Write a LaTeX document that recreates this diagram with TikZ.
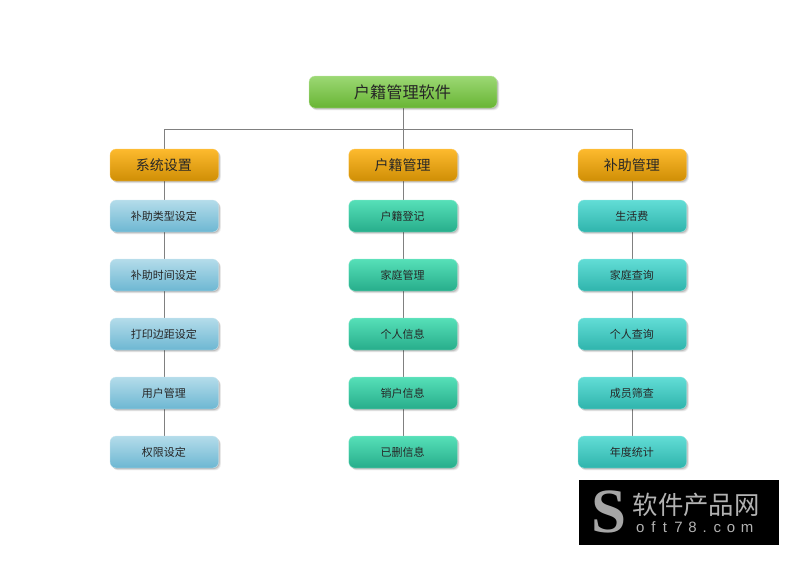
\documentclass[tikz,border=0pt]{standalone}
\usepackage{fontspec}
\setmainfont{Noto Sans CJK SC}
\newfontfamily\wmserif{Liberation Serif}
\newfontfamily\wmsans{Liberation Sans}
\usetikzlibrary{shadows,backgrounds,calc}
\definecolor{linegray}{HTML}{808080}
\definecolor{green1top}{HTML}{9CD874}
\definecolor{green1bot}{HTML}{68B534}
\definecolor{orange1top}{HTML}{FDBA2E}
\definecolor{orange1bot}{HTML}{CF8E05}
\definecolor{blue1top}{HTML}{B4DCEA}
\definecolor{blue1bot}{HTML}{6DB7D2}
\definecolor{mint1top}{HTML}{56E0B8}
\definecolor{mint1bot}{HTML}{27AD8B}
\definecolor{teal1top}{HTML}{62DDD6}
\definecolor{teal1bot}{HTML}{2FB4AC}
\tikzset{
  softshadow/.style={
    general shadow={shadow xshift=2.4pt,shadow yshift=-2.4pt,opacity=.06,fill=black},
    general shadow={shadow xshift=1.7pt,shadow yshift=-1.7pt,opacity=.09,fill=black},
    general shadow={shadow xshift=1pt,shadow yshift=-1pt,opacity=.12,fill=black}},
  boxbase/.style={rounded corners=6pt,minimum height=32pt,inner sep=0pt,text=black!85,
    shading angle=0,softshadow,execute at end node={\hspace{1pt}}},
  rootbox/.style={boxbase,minimum width=188pt,font=\fontsize{16.2}{16.2}\selectfont,
    draw=green1top!60,line width=.3pt,top color=green1top,bottom color=green1bot},
  headbox/.style={boxbase,minimum width=108.5pt,font=\fontsize{14}{14}\selectfont,
    draw=orange1top!70,line width=.3pt,top color=orange1top,bottom color=orange1bot},
  leafbase/.style={boxbase,minimum width=108.5pt,font=\fontsize{11}{11}\selectfont},
  blueleaf/.style={leafbase,draw=blue1top!60,line width=.3pt,top color=blue1top,bottom color=blue1bot},
  greenleaf/.style={leafbase,draw=mint1top!60,line width=.3pt,top color=mint1top,bottom color=mint1bot},
  tealleaf/.style={leafbase,draw=teal1top!60,line width=.3pt,top color=teal1top,bottom color=teal1bot},
  link/.style={draw=linegray,line width=.8pt},
  wmtext/.style={inner sep=0pt,text=black!30!white}
}
\begin{document}
\begin{tikzpicture}[x=1pt,y=-1pt]
\useasboundingbox (0,0) rectangle (799,565);
\node[rootbox] (root) at (403,92) {户籍管理软件};
\coordinate (hub) at (403,129);
\node[headbox] (h1) at (164.3,165) {系统设置};
\node[headbox] (h2) at (403,165) {户籍管理};
\node[headbox] (h3) at (632.3,165) {补助管理};
\coordinate (t1) at (h1 |- hub);
\coordinate (t3) at (h3 |- hub);
\node[blueleaf] (a1) at (164.3,216) {补助类型设定};
\node[blueleaf] (a2) at (164.3,275) {补助时间设定};
\node[blueleaf] (a3) at (164.3,334) {打印边距设定};
\node[blueleaf] (a4) at (164.3,393) {用户管理};
\node[blueleaf] (a5) at (164.3,452) {权限设定};
\node[greenleaf] (b1) at (403,216) {户籍登记};
\node[greenleaf] (b2) at (403,275) {家庭管理};
\node[greenleaf] (b3) at (403,334) {个人信息};
\node[greenleaf] (b4) at (403,393) {销户信息};
\node[greenleaf] (b5) at (403,452) {已删信息};
\node[tealleaf] (c1) at (632.3,216) {生活费};
\node[tealleaf] (c2) at (632.3,275) {家庭查询};
\node[tealleaf] (c3) at (632.3,334) {个人查询};
\node[tealleaf] (c4) at (632.3,393) {成员筛查};
\node[tealleaf] (c5) at (632.3,452) {年度统计};
\begin{scope}[on background layer]
  \fill[white] (0,0) rectangle (799,565);
  \draw[link] (root.south) -- (h2.north);
  \draw[link] (h1.north) -- (t1) -- (t3) -- (h3.north);
  \draw[link] (h1) -- (a1) -- (a2) -- (a3) -- (a4) -- (a5);
  \draw[link] (h2) -- (b1) -- (b2) -- (b3) -- (b4) -- (b5);
  \draw[link] (h3) -- (c1) -- (c2) -- (c3) -- (c4) -- (c5);
\end{scope}
\node[fill=black,minimum width=200pt,minimum height=65pt,inner sep=0pt] (wm) at (679,512.5) {};
\node[wmtext,font=\wmserif\bfseries\fontsize{63}{63}\selectfont,text=black!35!white] (wmS) at (609,512) {S};
\node[wmtext,font=\fontsize{25.4}{25.4}\selectfont,anchor=west] (wmT) at (632.5,505) {软件产品网};
\node[wmtext,font=\wmsans\fontsize{15}{15}\selectfont,anchor=west] (wmU) at (636,527) {o\hspace{6.8pt}f\hspace{7.3pt}t\hspace{7.3pt}7\hspace{5.8pt}8\hspace{5.8pt}.\hspace{6.8pt}c\hspace{5.8pt}o\hspace{5.8pt}m};
\end{tikzpicture}
\end{document}
